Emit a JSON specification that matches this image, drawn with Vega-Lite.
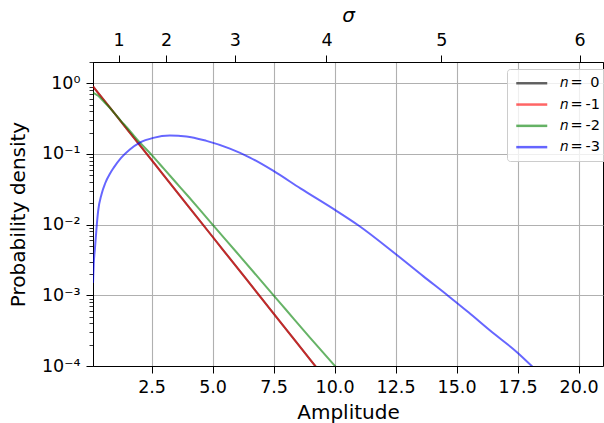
{
  "$schema": "https://vega.github.io/schema/vega-lite/v6.json",
  "width": 510,
  "height": 304,
  "autosize": {"type": "none"},
  "padding": {"left": 93, "top": 62, "right": 1, "bottom": 57},
  "background": "white",
  "config": {
    "font": "DejaVu Sans",
    "view": {"stroke": "black", "strokeWidth": 1},
    "axis": {
      "labelColor": "black",
      "titleColor": "black",
      "tickColor": "black",
      "domainColor": "black",
      "labelFontSize": 17.5,
      "titleFontSize": 20,
      "titleFontWeight": "normal",
      "gridColor": "#b0b0b0",
      "gridWidth": 1.1,
      "gridOpacity": 1
    }
  },
  "data": {
    "values": [
      {"series": "n = 0", "amplitude": 0.1, "density": 0.905},
      {"series": "n = 0", "amplitude": 1, "density": 0.368},
      {"series": "n = 0", "amplitude": 2, "density": 0.1353},
      {"series": "n = 0", "amplitude": 3, "density": 0.0498},
      {"series": "n = 0", "amplitude": 4, "density": 0.01832},
      {"series": "n = 0", "amplitude": 5, "density": 0.00674},
      {"series": "n = 0", "amplitude": 6, "density": 0.00248},
      {"series": "n = 0", "amplitude": 7, "density": 0.000912},
      {"series": "n = 0", "amplitude": 8, "density": 0.000336},
      {"series": "n = 0", "amplitude": 9, "density": 0.000123},
      {"series": "n = 0", "amplitude": 9.25, "density": 0.000096},
      {"series": "n = -1", "amplitude": 0.1, "density": 0.905},
      {"series": "n = -1", "amplitude": 1, "density": 0.368},
      {"series": "n = -1", "amplitude": 2, "density": 0.1353},
      {"series": "n = -1", "amplitude": 3, "density": 0.0498},
      {"series": "n = -1", "amplitude": 4, "density": 0.01832},
      {"series": "n = -1", "amplitude": 5, "density": 0.00674},
      {"series": "n = -1", "amplitude": 6, "density": 0.00248},
      {"series": "n = -1", "amplitude": 7, "density": 0.000912},
      {"series": "n = -1", "amplitude": 8, "density": 0.000336},
      {"series": "n = -1", "amplitude": 9, "density": 0.000123},
      {"series": "n = -1", "amplitude": 9.25, "density": 0.000096},
      {"series": "n = -2", "amplitude": 0.1, "density": 0.74},
      {"series": "n = -2", "amplitude": 0.3, "density": 0.67},
      {"series": "n = -2", "amplitude": 0.5, "density": 0.57},
      {"series": "n = -2", "amplitude": 0.75, "density": 0.465},
      {"series": "n = -2", "amplitude": 1.0, "density": 0.37},
      {"series": "n = -2", "amplitude": 1.25, "density": 0.292},
      {"series": "n = -2", "amplitude": 1.5, "density": 0.235},
      {"series": "n = -2", "amplitude": 1.75, "density": 0.186},
      {"series": "n = -2", "amplitude": 2.0, "density": 0.148},
      {"series": "n = -2", "amplitude": 2.5, "density": 0.097},
      {"series": "n = -2", "amplitude": 3.0, "density": 0.062},
      {"series": "n = -2", "amplitude": 3.5, "density": 0.0395},
      {"series": "n = -2", "amplitude": 4.0, "density": 0.0252},
      {"series": "n = -2", "amplitude": 4.5, "density": 0.0159},
      {"series": "n = -2", "amplitude": 5.0, "density": 0.0100},
      {"series": "n = -2", "amplitude": 6.0, "density": 0.0040},
      {"series": "n = -2", "amplitude": 7.0, "density": 0.00159},
      {"series": "n = -2", "amplitude": 7.5, "density": 0.00100},
      {"series": "n = -2", "amplitude": 8.0, "density": 0.00063},
      {"series": "n = -2", "amplitude": 9.0, "density": 0.00025},
      {"series": "n = -2", "amplitude": 10.05, "density": 0.000097},
      {"series": "n = -3", "amplitude": 0.1, "density": 0.0015},
      {"series": "n = -3", "amplitude": 0.13, "density": 0.0028},
      {"series": "n = -3", "amplitude": 0.18, "density": 0.0046},
      {"series": "n = -3", "amplitude": 0.25, "density": 0.0094},
      {"series": "n = -3", "amplitude": 0.31, "density": 0.0155},
      {"series": "n = -3", "amplitude": 0.45, "density": 0.027},
      {"series": "n = -3", "amplitude": 0.6, "density": 0.0385},
      {"series": "n = -3", "amplitude": 0.8, "density": 0.053},
      {"series": "n = -3", "amplitude": 0.95, "density": 0.064},
      {"series": "n = -3", "amplitude": 1.25, "density": 0.088},
      {"series": "n = -3", "amplitude": 1.61, "density": 0.116},
      {"series": "n = -3", "amplitude": 2.02, "density": 0.145},
      {"series": "n = -3", "amplitude": 2.57, "density": 0.169},
      {"series": "n = -3", "amplitude": 3.25, "density": 0.182},
      {"series": "n = -3", "amplitude": 3.93, "density": 0.177},
      {"series": "n = -3", "amplitude": 4.75, "density": 0.153},
      {"series": "n = -3", "amplitude": 5.71, "density": 0.119},
      {"series": "n = -3", "amplitude": 6.53, "density": 0.089},
      {"series": "n = -3", "amplitude": 7.48, "density": 0.058},
      {"series": "n = -3", "amplitude": 8.6, "density": 0.0326},
      {"series": "n = -3", "amplitude": 10.0, "density": 0.0163},
      {"series": "n = -3", "amplitude": 10.97, "density": 0.0098},
      {"series": "n = -3", "amplitude": 12.54, "density": 0.00375},
      {"series": "n = -3", "amplitude": 13.63, "density": 0.00187},
      {"series": "n = -3", "amplitude": 14.66, "density": 0.00098},
      {"series": "n = -3", "amplitude": 15.5, "density": 0.00057},
      {"series": "n = -3", "amplitude": 16.36, "density": 0.00032},
      {"series": "n = -3", "amplitude": 17.52, "density": 0.000152},
      {"series": "n = -3", "amplitude": 18.12, "density": 0.000097}
    ]
  },
  "layer": [
    {
      "mark": {"type": "line", "strokeWidth": 2, "strokeOpacity": 0.6, "clip": true, "interpolate": "monotone"},
      "encoding": {
        "x": {
          "field": "amplitude", "type": "quantitative",
          "scale": {"domain": [0.1, 21], "nice": false, "zero": false},
          "axis": {
            "orient": "bottom",
            "values": [2.5, 5, 7.5, 10, 12.5, 15, 17.5, 20],
            "format": ".1f",
            "grid": true,
            "tickSize": 7,
            "labelPadding": 5,
            "title": "Amplitude",
            "titlePadding": 7
          }
        },
        "y": {
          "field": "density", "type": "quantitative",
          "scale": {"type": "log", "domain": [0.0001, 2], "nice": false},
          "axis": {
            "orient": "left",
            "values": [0.0001, 0.001, 0.01, 0.1, 1],
            "labelExpr": "datum.value > 0.5 ? '10⁰' : datum.value > 0.05 ? '10⁻¹' : datum.value > 0.005 ? '10⁻²' : datum.value > 0.0005 ? '10⁻³' : '10⁻⁴'",
            "grid": true,
            "tickSize": 7,
            "labelPadding": 6,
            "title": "Probability density",
            "titlePadding": 13
          }
        },
        "color": {
          "field": "series", "type": "nominal",
          "scale": {
            "domain": ["n = 0", "n = -1", "n = -2", "n = -3"],
            "range": ["#000000", "#ff0000", "#008000", "#0000ff"]
          },
          "legend": {
            "title": null,
            "orient": "none",
            "legendX": 414,
            "legendY": 7,
            "symbolType": "M-1,0H5.2",
            "symbolSize": 100,
            "symbolStrokeWidth": 2.5,
            "symbolOpacity": 0.6,
            "symbolFillColor": "transparent",
            "labelOffset": 31,
            "labelFontSize": 14.5,
            "labelColor": "black",
            "labelExpr": "datum.label == 'n = 0' ? '𝑛\u2009=\u2009\u20040' : replace(replace(replace(datum.label, 'n', '𝑛'), ' ', '\u2009'), ' ', '\u2009')",
            "fillColor": "rgba(255,255,255,0.8)",
            "strokeColor": "#cccccc",
            "cornerRadius": 3,
            "padding": 7,
            "rowPadding": 6.3
          }
        }
      }
    },
    {
      "mark": {"type": "line", "opacity": 0},
      "encoding": {
        "x": {
          "field": "amplitude", "type": "quantitative",
          "axis": {
            "orient": "top",
            "values": [1.148, 3.09, 5.914, 9.668, 14.37, 20.04],
            "labelExpr": "datum.value < 2 ? '1' : datum.value < 4 ? '2' : datum.value < 7 ? '3' : datum.value < 12 ? '4' : datum.value < 17 ? '5' : '6'",
            "grid": false,
            "tickSize": 7,
            "labelPadding": 6,
            "title": "σ",
            "titleFontStyle": "italic",
            "titlePadding": 6
          }
        },
        "y": {
          "field": "density", "type": "quantitative",
          "axis": {
            "orient": "left",
            "values": [0.0002, 0.0003, 0.0004, 0.0005, 0.0006, 0.0007, 0.0008, 0.0009, 0.002, 0.003, 0.004, 0.005, 0.006, 0.007, 0.008, 0.009, 0.02, 0.03, 0.04, 0.05, 0.06, 0.07, 0.08, 0.09, 0.2, 0.3, 0.4, 0.5, 0.6, 0.7, 0.8, 0.9, 2],
            "labels": false,
            "grid": false,
            "domain": false,
            "tickSize": 4,
            "tickWidth": 0.8,
            "title": null
          }
        }
      }
    }
  ],
  "resolve": {"axis": {"x": "independent", "y": "independent"}}
}
